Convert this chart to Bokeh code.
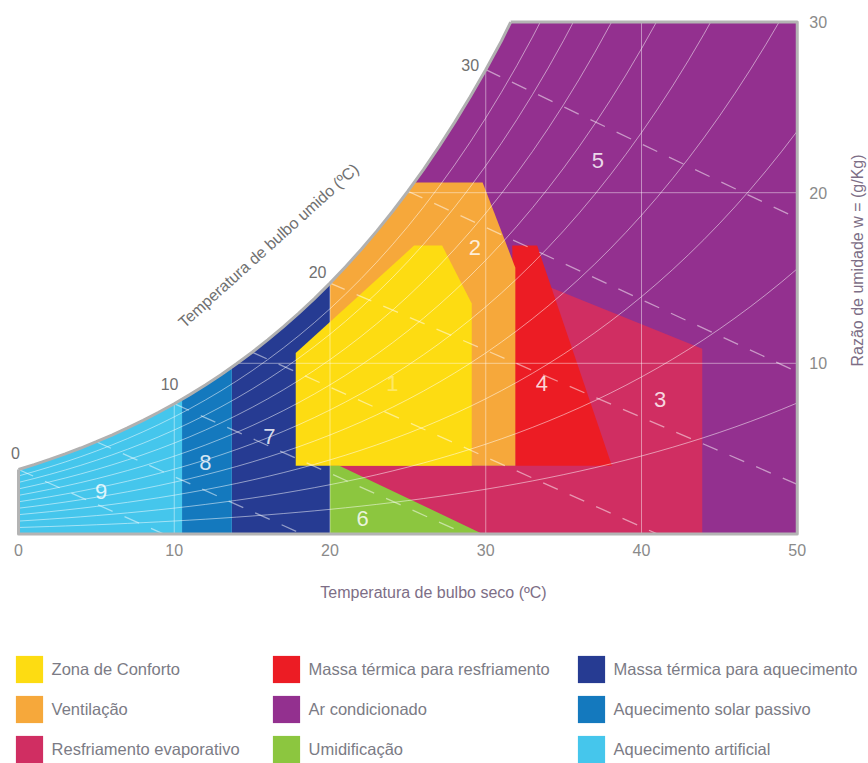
import numpy as np
from bokeh.plotting import figure
from bokeh.models import Range1d, Label, Legend, LegendItem
from bokeh.core.properties import value
from bokeh.embed import file_html
from bokeh.resources import INLINE

# ---------------- data ----------------
# saturation vapour pressure table (kPa) per degree C, used for the psychrometric guide curves
sat_T = list(range(0, 51))
sat_ps = [0.6113, 0.6571, 0.7060, 0.7581, 0.8135, 0.8726, 0.9354, 1.0021, 1.0730, 1.1482,
          1.2282, 1.3129, 1.4028, 1.4981, 1.5989, 1.7057, 1.8188, 1.9383, 2.0647, 2.1982,
          2.3392, 2.4881, 2.6452, 2.8109, 2.9856, 3.1697, 3.3637, 3.5679, 3.7828, 4.0089,
          4.2467, 4.4966, 4.7592, 5.0351, 5.3247, 5.6286, 5.9475, 6.2818, 6.6324, 6.9997,
          7.3844, 7.7873, 8.2090, 8.6503, 9.1118, 9.5944, 10.0988, 10.6259, 11.1764, 11.7512,
          12.3513]
P_ATM = 101.325
rh_levels = [10, 20, 30, 40, 50, 60, 70, 80, 90]

# wet-bulb guide lines (start on the saturation curve)
wb_start_T = [0, 5, 10, 15, 20, 25, 30]
wb_end_T = [9.3, 18.2, 28.7, 41.0, 50.0, 50.0, 50.0]
wb_end_W = [0.0, 0.0, 0.0, 0.0, 2.9, 9.5, 18.5]
wb_label_T = [0, 10, 20, 30]
wb_label_text = ["0", "10", "20", "30"]

grid_T = [10, 20, 30, 40]
grid_W = [10, 20]
x_ticks = [0, 10, 20, 30, 40, 50]
y_ticks = [10, 20, 30]
box_top_start_T = 31.6   # where the saturation curve meets w = 30
box_T_max = 50
box_W_max = 30

# zones (dry-bulb T in C, humidity ratio W in g/kg)
z1_T = [17.8, 17.8, 25.4, 27.2, 29.1, 29.1]
z1_W = [4.0, 10.6, 16.9, 16.9, 13.5, 4.0]
z2_T = [20.0, 20.0, 29.8, 31.9, 31.9]
z2_W = [4.0, 20.6, 20.6, 15.6, 4.0]
z3_T = [20.0, 43.9, 43.9, 34.0, 31.9, 31.9, 20.0]
z3_W = [0.0, 0.0, 10.85, 14.5, 15.3, 4.0, 4.0]
z4_T = [31.7, 33.3, 38.1, 31.9]
z4_W = [16.9, 16.9, 4.0, 4.0]
z5_T = [20.0, 50.0, 50.0, 20.0]
z5_W = [0.0, 0.0, 30.0, 30.0]
z6_T = [20.0, 20.6, 29.8, 20.0]
z6_W = [4.0, 4.0, 0.0, 0.0]
z7_T = [13.7, 20.0, 20.0, 13.7]
z7_W = [0.0, 0.0, 30.0, 30.0]
z8_T = [10.5, 13.7, 13.7, 10.5]
z8_W = [0.0, 0.0, 30.0, 30.0]
z9_T = [0.0, 10.5, 10.5, 0.0]
z9_W = [0.0, 0.0, 30.0, 30.0]

zone_names = ["Zona de Conforto", "Ventilação", "Resfriamento evaporativo",
              "Massa térmica para resfriamento", "Ar condicionado", "Umidificação",
              "Massa térmica para aquecimento", "Aquecimento solar passivo", "Aquecimento artificial"]
zone_numbers = ["1", "2", "3", "4", "5", "6", "7", "8", "9"]

# ---------------- styles / layout ----------------
colors = ["#FDDC12", "#F6A83B", "#D02E62", "#EC1C24", "#93308F",
          "#8CC63F", "#263B92", "#1479BE", "#45C6EC"]
number_pos = [(24.0, 8.8), (29.3, 16.8), (41.2, 7.9), (33.6, 8.8), (37.2, 21.9),
              (22.1, 0.9), (16.1, 5.7), (12.0, 4.2), (5.3, 2.5)]
FONT = "Liberation Sans"
GRAY = "#8a8a8a"
TITLE_COLOR = "#7d6e86"
W_PX, H_PX = 868, 763
PX_T = 15.575      # pixels per degree
PX_W = 17.06       # pixels per g/kg
X0_PX, Y0_PX = 18.0, 533.4   # pixel of (0, 0)

x_lo = -X0_PX / PX_T
x_hi = (W_PX - X0_PX) / PX_T
y_hi = Y0_PX / PX_W
y_lo = (Y0_PX - H_PX) / PX_W


def w_of(phi, ps):
    ps = np.asarray(ps)
    return 622.0 * phi * ps / (P_ATM - phi * ps)


sat_W = w_of(1.0, sat_ps)

p = figure(width=W_PX, height=H_PX, x_range=Range1d(x_lo, x_hi), y_range=Range1d(y_lo, y_hi),
           x_axis_type=None, y_axis_type=None, toolbar_location=None, output_backend="svg",
           min_border=0, title=None)
p.outline_line_color = None
p.background_fill_color = "white"
for g in p.grid:
    g.visible = False

zones = [(z1_T, z1_W), (z2_T, z2_W), (z3_T, z3_W), (z4_T, z4_W), (z5_T, z5_W),
         (z6_T, z6_W), (z7_T, z7_W), (z8_T, z8_W), (z9_T, z9_W)]
draw_order = [4, 2, 3, 1, 6, 7, 8, 0, 5]
zone_r = {}
for i in draw_order:
    zt, zw = zones[i]
    zone_r[i] = p.patch(zt, zw, fill_color=colors[i], line_color=None)

# grid lines
for t in grid_T:
    p.line([t, t], [0, box_W_max], line_color="white", line_alpha=0.45, line_width=1)
for wv in grid_W:
    p.line([0, box_T_max], [wv, wv], line_color="white", line_alpha=0.45, line_width=1)

# relative humidity curves
rh_xs = [sat_T for _ in rh_levels]
rh_ys = [list(w_of(r / 100.0, sat_ps)) for r in rh_levels]
p.multi_line(rh_xs, rh_ys, line_color="white", line_alpha=0.5, line_width=1)

# wet-bulb dashed lines
wb_xs = [[s, e] for s, e in zip(wb_start_T, wb_end_T)]
wb_ys = [[float(sat_W[sat_T.index(s)]), e] for s, e in zip(wb_start_T, wb_end_W)]
p.multi_line(wb_xs, wb_ys, line_color="white", line_alpha=0.5, line_width=1.3, line_dash="16 13")

# white masks: above the saturation curve and above w = 30
mask_T = sat_T[:33] + [32, -5, -5]
mask_W = list(sat_W[:33]) + [60, 60, float(sat_W[0])]
p.patch(mask_T, mask_W, fill_color="white", line_color=None)
p.patch([-5, 60, 60, -5], [box_W_max, box_W_max, 60, 60], fill_color="white", line_color=None)

# saturation curve and box
sat_line_T = sat_T[:32] + [box_top_start_T]
sat_line_W = list(sat_W[:32]) + [box_W_max]
p.line(sat_line_T, sat_line_W, line_color="#b0b0b0", line_width=3)
p.line([box_top_start_T, box_T_max, box_T_max, 0, 0], [box_W_max, box_W_max, 0, 0, float(sat_W[0])],
       line_color="#b4b4b4", line_width=3, line_join="round")

# tick labels (through the data scales)
x_lab_y = -16.0 / PX_W
p.text(x=x_ticks, y=[x_lab_y] * len(x_ticks), text=[str(t) for t in x_ticks],
       text_align="center", text_baseline="middle", text_color=GRAY,
       text_font=value(FONT), text_font_size="16px")
y_lab_x = box_T_max + 12.0 / PX_T
p.text(x=[y_lab_x] * len(y_ticks), y=y_ticks, text=[str(t) for t in y_ticks],
       text_align="left", text_baseline="middle", text_color=GRAY,
       text_font=value(FONT), text_font_size="16px")

# zone numbers
for i, (tx, wy) in enumerate(number_pos):
    p.add_layout(Label(x=tx, y=wy, text=zone_numbers[i], text_align="center",
                       text_baseline="middle", text_color="white",
                       text_alpha=0.35 if i == 0 else 0.82,
                       text_font=FONT, text_font_size="22px"))

# wet bulb labels along the curve
wb_label_off = [(-0.2, 0.95), (-0.3, 1.15), (-0.8, 0.65), (-1.0, 0.3)]
for t, txt, (dx, dy) in zip(wb_label_T, wb_label_text, wb_label_off):
    p.add_layout(Label(x=t + dx, y=float(sat_W[sat_T.index(t)]) + dy, text=txt,
                       text_align="center", text_baseline="middle", text_color="#707070",
                       text_font=FONT, text_font_size="16px"))
p.add_layout(Label(x=16.05, y=16.9, text="Temperatura de bulbo umido (ºC)", angle=42,
                   angle_units="deg", text_align="center", text_baseline="middle",
                   text_color="#707070", text_font=FONT, text_font_size="16px"))

# axis titles
p.add_layout(Label(x=(433 - X0_PX) / PX_T, y=(Y0_PX - 592) / PX_W,
                   text="Temperatura de bulbo seco (ºC)", text_align="center",
                   text_baseline="middle", text_color=TITLE_COLOR, text_font=FONT,
                   text_font_size="16px"))
p.add_layout(Label(x=(857 - X0_PX) / PX_T, y=(Y0_PX - 260) / PX_W,
                   text="Razão de umidade w = (g/Kg)", angle=90,
                   angle_units="deg", text_align="center", text_baseline="middle",
                   text_color=TITLE_COLOR, text_font=FONT, text_font_size="16px"))

# legends: three columns
col_x = [11.6, 268.6, 573.6]
for ci in range(3):
    items = [LegendItem(label=zone_names[k], renderers=[zone_r[k]]) for k in range(ci * 3, ci * 3 + 3)]
    leg = Legend(items=items, location=(col_x[ci], -3), orientation="vertical",
                 glyph_width=34, glyph_height=34, spacing=6, padding=0, margin=0,
                 border_line_color=None, background_fill_alpha=0, label_standoff=6,
                 label_text_font_size="16.5px", label_text_color="#7b7b85",
                 label_text_font=FONT)
    p.add_layout(leg)

open("out.html", "w").write(file_html(p, INLINE))
